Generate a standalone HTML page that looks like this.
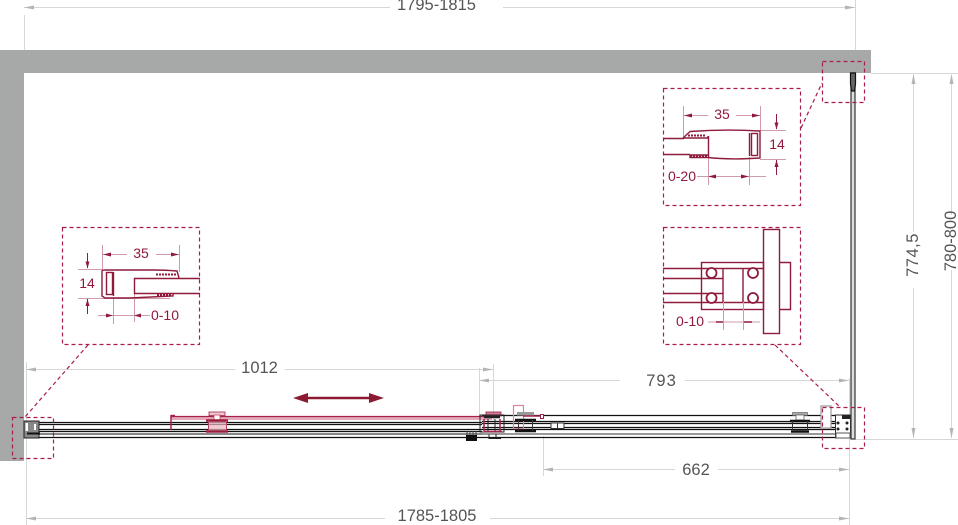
<!DOCTYPE html>
<html><head><meta charset="utf-8"><style>
html,body{margin:0;padding:0;background:#fff;width:958px;height:525px;overflow:hidden}
svg{display:block}
text{font-family:"Liberation Sans",sans-serif}
.d{fill:#555;font-size:16.500px;text-anchor:middle;dominant-baseline:central}
.r{fill:#8f1a3c;font-size:14px;text-anchor:middle;dominant-baseline:central}
</style></head><body>
<svg width="958" height="525" viewBox="0 0 958 525" xmlns="http://www.w3.org/2000/svg">

<!-- walls -->
<path d="M0 50H871V73H24V461H0Z" fill="#a7a9a9"/>

<!-- grey dims -->
<g stroke="#d6d8d8" stroke-width="1" fill="none">
<path d="M24.500 15V50M855.500 0V50M871 73.500H958M855 439.500H958"/>
<path d="M26.500 362V525M849.500 378V525M493.500 364V420M479.500 368V416M543.500 436V476"/>
<path d="M24 7.500H390M503 7.500H855"/>
<path d="M26 369.500H235M285 369.500H493"/>
<path d="M479 380.500H620M685 380.500H849"/>
<path d="M543 469.500H675M718 469.500H849"/>
<path d="M26 518.500H385M490 518.500H849"/>
<path d="M913.500 75V232M913.500 288V438"/>
<path d="M951.500 75V215M951.500 270V438"/>
</g>
<g fill="#b4b6b6">
<path d="M24 7.500l10-2v4ZM855 7.500l-10-2v4Z"/>
<path d="M26 369.500l10-2v4ZM493 369.500l-10-2v4ZM479 380.500l10-2v4ZM849 380.500l-10-2v4Z"/>
<path d="M543 469.500l10-2v4ZM849 469.500l-10-2v4ZM26 518.500l10-2v4ZM849 518.500l-10-2v4Z"/>
<path d="M913.500 74l-2 10h4ZM913.500 438l-2-10h4ZM951.500 74l-2 10h4ZM951.500 438l-2-10h4Z"/>
</g>
<text class="d" x="436.500" y="5">1795-1815</text>
<text class="d" x="259.500" y="368">1012</text>
<text class="d" x="661.500" y="381" style="letter-spacing:1px">793</text>
<text class="d" x="696" y="470">662</text>
<text class="d" x="437" y="516">1785-1805</text>
<text class="d" transform="translate(913 255) rotate(-90)" style="letter-spacing:.5px">774,5</text>
<text class="d" transform="translate(951 241) rotate(-90)">780-800</text>

<!-- glass right panel -->
<g fill="none">
<rect x="851" y="73" width="4" height="366" fill="#ddd" stroke="#333" stroke-width="1.200"/>
<path d="M850.500 73H855.500V84L854.500 91H851.500L850.500 84Z" fill="#666" stroke="#111" stroke-width="1.200"/>
</g>

<!-- rails -->
<g stroke="#111" stroke-width="1.200" fill="none">
<path d="M38 422.500H482M38 424.500H482M38 429.500H482M38 431.500H482M38 437.500H482"/>
<path d="M482 415.500H835M482 421.500H835M482 423.500H835M482 427.500H835M482 429.500H835M482 437.500H835"/>
</g>
<path d="M38 434H482" stroke="#888" stroke-width="2"/>
<path d="M482 434H835" stroke="#999" stroke-width="2"/>

<!-- left end -->
<rect x="24" y="421" width="15" height="17" fill="#888" stroke="#222"/>
<rect x="25.500" y="423" width="2.500" height="8" fill="#fff"/>
<rect x="34" y="424" width="2" height="6" fill="#fff"/>
<path d="M27 433.500H40" stroke="#111" stroke-width="2"/>

<!-- red sliding door -->
<path d="M171 418.500H492" stroke="#e6a8b8" stroke-width="3"/>
<path d="M171 416.500H492" stroke="#a3234a" stroke-width="1.200"/>
<path d="M171 415V430M171 415.500H175" stroke="#a3234a" stroke-width="1.500" fill="none"/>
<rect x="209" y="412" width="16" height="3.500" fill="#f0c8d2" stroke="#a3234a" stroke-width=".8"/>
<rect x="214" y="415" width="6" height="5" fill="#fff" stroke="#c45" stroke-width=".8"/>
<rect x="208" y="420" width="19" height="12" fill="#eeb6c4" opacity=".7"/>
<path d="M206 420.500H228" stroke="#9c1c3e" stroke-width="2.500"/>
<path d="M206 431.500H228" stroke="#9c1c3e" stroke-width="2.500"/>
<path d="M208.500 420V431M226.500 420V431" stroke="#b84060" stroke-width="1"/>

<!-- centre carriage -->
<rect x="486" y="412" width="15" height="4" fill="#d08098" stroke="#9c1c3e" stroke-width=".8"/>
<rect x="480" y="415" width="24" height="17" fill="none" stroke="#222" stroke-width="1"/>
<path d="M484 417H500" stroke="#222" stroke-width="2.500"/>
<path d="M484 419V431M500 419V431" stroke="#a3234a" stroke-width="1.500"/>
<path d="M488 419V431M495 419V431" stroke="#222" stroke-width="1"/>
<path d="M484 431.500H502" stroke="#a3234a" stroke-width="1.500"/>
<rect x="466" y="435" width="11" height="6" fill="#111"/>
<path d="M467 431V435M470 431V435M473 431V435M476 431V435" stroke="#444"/>
<path d="M489 434.500V438.500H501M496 434V438" stroke="#222" fill="none"/>

<!-- second carriage -->
<rect x="513.500" y="405.500" width="10" height="23" fill="none" stroke="#d9869c" stroke-width="1.200"/>
<rect x="517" y="412" width="17" height="3.500" fill="#999"/>
<path d="M515 420H536" stroke="#111" stroke-width="2.500"/>
<path d="M515 431H536" stroke="#111" stroke-width="2.500"/>
<path d="M518.500 420V431M532.500 420V431" stroke="#333"/>
<path d="M523 416H541" stroke="#a3234a" stroke-width="1.500"/>
<rect x="540.500" y="414.500" width="3" height="4" fill="#fff" stroke="#a3234a"/>
<rect x="551" y="423" width="13" height="5.500" fill="#fff" stroke="#333"/>
<path d="M557.500 423V429" stroke="#333"/>

<!-- right carriage -->
<rect x="792.500" y="412.500" width="15" height="3" fill="#aaa" stroke="#555" stroke-width=".6"/>
<rect x="796" y="415" width="8" height="5" fill="#fff" stroke="#555" stroke-width=".7"/>
<path d="M790 421H810M791 431.500H809" stroke="#111" stroke-width="2.500"/>
<path d="M792.500 421V431M807.500 421V431" stroke="#333"/>
<rect x="821" y="406" width="10" height="22" fill="#fff" stroke="#999" stroke-width="1.200"/>
<rect x="835.500" y="415" width="15" height="23" fill="#fff" stroke="#333"/>
<rect x="836" y="433" width="14" height="5" fill="#fff" stroke="#555"/>
<g fill="#222"><rect x="842" y="415" width="8" height="4"/><circle cx="838" cy="423" r="1.500"/><circle cx="847" cy="423" r="1.500"/><circle cx="838" cy="429" r="1.500"/><circle cx="847" cy="429" r="1.500"/></g>

<!-- dashed -->
<g fill="none" stroke="#a81e4a" stroke-width="1.200" stroke-dasharray="4 3">
<rect x="822.500" y="61.500" width="42" height="41"/>
<rect x="663.500" y="88.500" width="137" height="117"/>
<rect x="663.500" y="227.500" width="137" height="117"/>
<rect x="62.500" y="227.500" width="137" height="117"/>
<rect x="12.500" y="417.500" width="41" height="41"/>
<rect x="822.500" y="407.500" width="42" height="41"/>
<path d="M801 128L822 83M88 345L25 417M775 345L839 406"/>
</g>

<!-- red arrow -->
<path d="M304 398H373" stroke="#8b1a32" stroke-width="2.500"/>
<path d="M293 398L308 393V403ZM384 398L369 393V403Z" fill="#8b1a32"/>

<!-- detail top -->
<g fill="none" stroke="#8f1a3c" stroke-width="1.400">
<g stroke="#cf9aaa" stroke-width="1"><path d="M683.500 106V137M760.500 106V130M760 130.500H786M760 159.500H786M708.500 157V185M749.500 157V185"/>
<path d="M684 115.500H708M736 115.500H760M697 176.500H766"/></g>
<path d="M776.500 114V129M776.500 160V175" stroke-width="1"/>
<path d="M663 138.500H684M663 154.500H690"/>
<path d="M683 138L690 131.500Q725 129 760 131V158Q730 160 708 157.500H690V155H708M708.500 136V157M684 138H708V136"/>
<rect x="751.500" y="133.500" width="6" height="22"/>
<path d="M749.500 133V156"/>
<path d="M688 135.500H705M690 156H707" stroke-dasharray="2 1" stroke-width="2"/>
</g>
<g fill="#8f1a3c"><path d="M684 115.500l8-2v4ZM760 115.500l-8-2v4ZM708 176.500l8-2v4ZM749 176.500l-8-2v4ZM776.500 129.500l-2-7h4ZM776.500 160l-2 7h4Z"/></g>
<text class="r" x="722" y="114">35</text>
<text class="r" x="777" y="144">14</text>
<text class="r" x="682" y="176">0-20</text>

<!-- detail middle -->
<g fill="none" stroke="#8f1a3c" stroke-width="1.400">
<rect x="763.500" y="229.500" width="16" height="104"/>
<path d="M779 262.500H790.500V309.500H779"/>
<rect x="701.500" y="262.500" width="62" height="47"/>
<path d="M663 268.500H763M663 302.500H763M663 278.500H723M663 293.500H723"/>
<path d="M723 268V302M743 268V302"/>
<g fill="#fff" stroke-width="1.800"><circle cx="711.500" cy="273" r="5"/><circle cx="753" cy="273" r="5"/><circle cx="711.500" cy="298" r="5"/><circle cx="753" cy="298" r="5"/></g>
<path d="M723.500 302V330M743.500 302V330M708 322H760" stroke="#cf9aaa" stroke-width="1"/>
</g>
<path d="M716 322h7M744 322h8" stroke="#8f1a3c" stroke-width="1.500"/>
<text class="r" x="690" y="321">0-10</text>

<!-- detail left -->
<g fill="none" stroke="#8f1a3c" stroke-width="1.400">
<g stroke="#cf9aaa" stroke-width="1"><path d="M102.500 245V270M179.500 245V272M78 269.500H102M78 298.500H170M113.500 297V324M134.500 293V322"/>
<path d="M103 254.500H127M156 254.500H179M98 315.500H150"/></g>
<path d="M87.500 253V268M87.500 299V314" stroke-width="1"/>
<path d="M102 271Q102 270 106 270H155Q165 270 177 271L179 278M102 271V296L105 298H130Q150 297 173 296V293"/>
<rect x="106.500" y="272.500" width="6" height="22"/>
<path d="M113.500 272V296"/>
<path d="M200 278.500H134.500V293.500H200"/>
<path d="M156 274.500H176M157 295H172" stroke-dasharray="2 1" stroke-width="2"/>
</g>
<g fill="#8f1a3c"><path d="M103 254.500l8-2v4ZM179 254.500l-8-2v4ZM113 315.500l-7-2v4ZM134 315.500l7-2v4ZM87.500 268.500l-2-7h4ZM87.500 299l-2 7h4Z"/></g>
<text class="r" x="141" y="253">35</text>
<text class="r" x="87" y="283">14</text>
<text class="r" x="165" y="315">0-10</text>
</svg>
</body></html>
